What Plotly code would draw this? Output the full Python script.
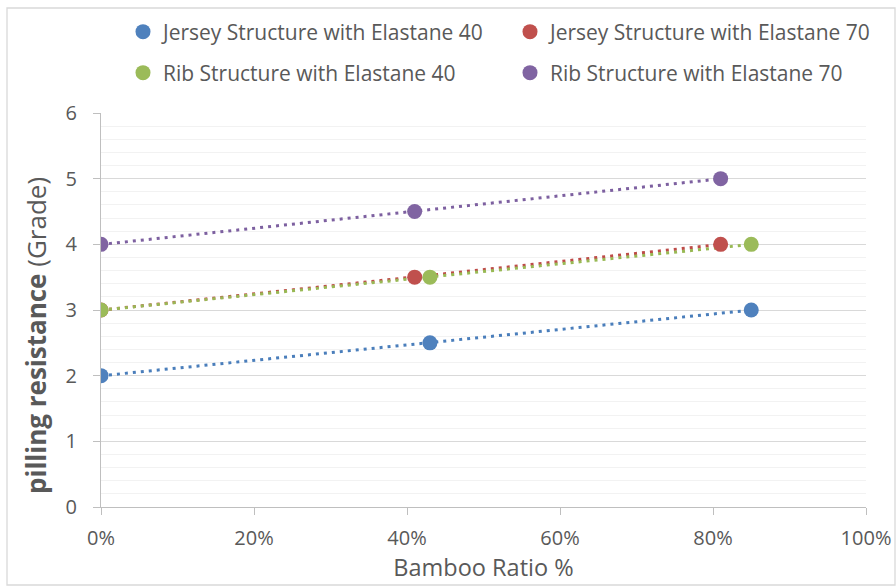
import numpy as np
import plotly.graph_objects as go

# Bamboo ratio (fraction) and pilling grade for each fabric
series_names = [
    "Jersey Structure with Elastane 40",
    "Jersey Structure with Elastane 70",
    "Rib Structure with Elastane 40",
    "Rib Structure with Elastane 70",
]
jersey40_x = [0.0, 0.43, 0.85]
jersey40_y = [2.0, 2.5, 3.0]
jersey70_x = [0.0, 0.41, 0.81]
jersey70_y = [3.0, 3.5, 4.0]
rib40_x = [0.0, 0.43, 0.85]
rib40_y = [3.0, 3.5, 4.0]
rib70_x = [0.0, 0.41, 0.81]
rib70_y = [4.0, 4.5, 5.0]

x_ticks = [0, 0.2, 0.4, 0.6, 0.8, 1.0]
x_tick_labels = ["0%", "20%", "40%", "60%", "80%", "100%"]
y_ticks = [0, 1, 2, 3, 4, 5, 6]

colors = ["#4f81bd", "#c0504d", "#9bbb59", "#8064a2"]
line_colors = ["#4a7ebb", "#be4b48", "#98b954", "#7d60a0"]
legend_ids = ["legend", "legend2", "legend3", "legend4"]

data = [
    (jersey40_x, jersey40_y),
    (jersey70_x, jersey70_y),
    (rib40_x, rib40_y),
    (rib70_x, rib70_y),
]

FONT = "Open Sans, sans-serif"
TEXT = "#595959"

W, H = 896, 587
ML, MR, MT, MB = 101, 30, 113, 80
pw = W - ML - MR
ph = H - MT - MB


def px_to_paper_x(px):
    return (px - ML) / pw


def px_to_paper_y(py):
    return (H - MB - py) / ph


fig = go.Figure()

# Linear trendlines, fitted to each series
for (xs, ys), lc in zip(data, line_colors):
    xs_a = np.array(xs)
    slope, intercept = np.polyfit(xs_a, np.array(ys), 1)
    tx = np.array([xs_a.min(), xs_a.max()])
    fig.add_trace(go.Scatter(
        x=tx, y=slope * tx + intercept, mode="lines",
        line=dict(color=lc, width=3, dash="3px,5px"),
        showlegend=False, hoverinfo="skip",
    ))

# Data points
for name, (xs, ys), c, lg in zip(series_names, data, colors, legend_ids):
    fig.add_trace(go.Scatter(
        x=xs, y=ys, mode="markers", name=name,
        marker=dict(color=c, size=15, line=dict(width=0)),
        legend=lg,
    ))

legend_common = dict(
    orientation="h", xanchor="left", yanchor="middle",
    font=dict(family=FONT, size=21, color=TEXT),
    bgcolor="rgba(0,0,0,0)", itemwidth=30,
)

# legend anchor positions (left edge, row centre) in pixels
legend_pos = {"legend": (123, 32), "legend2": (510, 32),
              "legend3": (123, 73), "legend4": (510, 73)}

layout_legends = {
    lid: dict(x=px_to_paper_x(px), y=px_to_paper_y(py), **legend_common)
    for lid, (px, py) in legend_pos.items()
}

fig.update_layout(
    width=W, height=H,
    margin=dict(l=ML, r=MR, t=MT, b=MB, autoexpand=False),
    paper_bgcolor="white", plot_bgcolor="white",
    font=dict(family=FONT, size=18, color=TEXT),
    **layout_legends,
    xaxis=dict(
        range=[0, 1], tickvals=x_ticks, ticktext=x_tick_labels,
        showgrid=False, zeroline=False,
        showline=True, linecolor="#bfbfbf", linewidth=1.3,
        ticks="outside", ticklen=7, tickcolor="#bfbfbf", tickwidth=1.3,
        ticklabelstandoff=6,
        tickfont=dict(family=FONT, size=20, color=TEXT),
        title=dict(text="Bamboo Ratio %", font=dict(family=FONT, size=23.5, color=TEXT), standoff=4),
    ),
    yaxis=dict(
        range=[0, 6], tickvals=y_ticks,
        showgrid=True, gridcolor="#d9d9d9", gridwidth=1.3,
        zeroline=False,
        showline=True, linecolor="#bfbfbf", linewidth=1.3,
        ticks="outside", ticklen=7, tickcolor="#bfbfbf", tickwidth=1.3,
        ticklabelstandoff=12,
        tickfont=dict(family=FONT, size=20, color=TEXT),
        minor=dict(dtick=0.2, showgrid=True, gridcolor="#f2f2f2", gridwidth=1.3, ticks=""),
    ),
    annotations=[dict(
        text="<b>pilling resistance</b> (Grade)", textangle=-90,
        xref="paper", yref="paper",
        x=px_to_paper_x(36), y=px_to_paper_y(336),
        xanchor="center", yanchor="middle", showarrow=False,
        font=dict(family=FONT, size=26, color=TEXT),
    )],
    shapes=[dict(
        type="rect", xref="paper", yref="paper", layer="below",
        x0=px_to_paper_x(7), x1=px_to_paper_x(895),
        y0=px_to_paper_y(585), y1=px_to_paper_y(8),
        line=dict(color="#d9d9d9", width=1.3), fillcolor="rgba(0,0,0,0)",
    )],
)

fig.write_html("out.html")
